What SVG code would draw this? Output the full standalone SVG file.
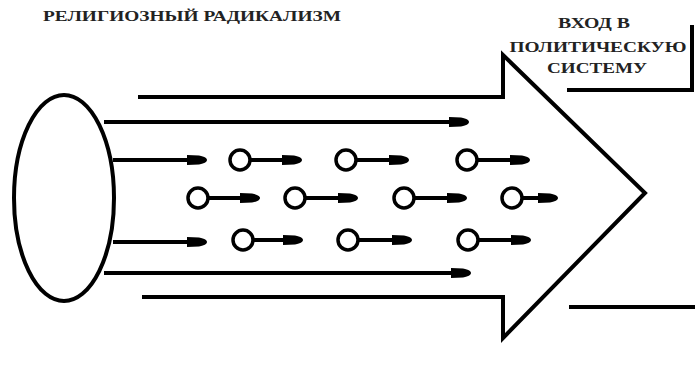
<svg xmlns="http://www.w3.org/2000/svg" width="695" height="371" viewBox="0 0 695 371">
<style>
.t{font-family:"Liberation Serif","DejaVu Serif",serif;font-weight:bold;fill:#222;}
.ln{stroke:#000;stroke-width:4;fill:none;}
.ar{stroke:#000;stroke-width:4;fill:none;marker-end:url(#h);}
.c{stroke:#000;stroke-width:3.5;fill:#fff;}
</style>
<defs>
<marker id="h" markerUnits="userSpaceOnUse" viewBox="0 0 20 11" refX="19" refY="5.5" markerWidth="20" markerHeight="11" orient="auto">
<path d="M0,0.5 L12,1 C18,2 20,4 20,5.5 C20,7 18,9 12,10 L0,10.5 Z" fill="#000"/>
</marker>
</defs>
<rect width="695" height="371" fill="#fff"/>
<text class="t" x="43" y="21" font-size="15" textLength="298" lengthAdjust="spacingAndGlyphs">РЕЛИГИОЗНЫЙ РАДИКАЛИЗМ</text>
<g id="entry-label">
<text class="t" x="594" y="28" font-size="15" text-anchor="middle" textLength="72" lengthAdjust="spacingAndGlyphs">ВХОД В</text>
<text class="t" x="598" y="52" font-size="15" text-anchor="middle" textLength="177" lengthAdjust="spacingAndGlyphs">ПОЛИТИЧЕСКУЮ</text>
<text class="t" x="597" y="73" font-size="15" text-anchor="middle" textLength="100" lengthAdjust="spacingAndGlyphs">СИСТЕМУ</text>
</g>
<g id="political-system">
<path class="ln" d="M567,90 H692 V25"/>
<path class="ln" d="M569,307 H695"/>
</g>
<g id="big-arrow">
<path class="ln" d="M138,97 H503 V55 L645,193 L503,338 V297 H142" stroke-linejoin="miter"/>
</g>
<g id="source">
<ellipse cx="64" cy="198" rx="50" ry="103" fill="#fff" stroke="#000" stroke-width="4"/>
</g>
<g id="connectors">
<line class="ar" x1="104" y1="122" x2="468" y2="122"/>
<line class="ar" x1="104" y1="273" x2="470" y2="273"/>
<line class="ar" x1="113" y1="160" x2="206" y2="160"/>
<line class="ar" x1="113" y1="242" x2="206" y2="242"/>
<line class="ar" x1="251" y1="160" x2="301" y2="160"/>
<line class="ar" x1="357" y1="160" x2="408" y2="160"/>
<line class="ar" x1="478" y1="160" x2="529" y2="160"/>
<line class="ar" x1="209" y1="198" x2="259" y2="198"/>
<line class="ar" x1="306" y1="198" x2="357" y2="198"/>
<line class="ar" x1="415" y1="198" x2="466" y2="198"/>
<line class="ar" x1="523" y1="198" x2="557" y2="198"/>
<line class="ar" x1="254" y1="240" x2="302" y2="240"/>
<line class="ar" x1="359" y1="240" x2="411" y2="240"/>
<line class="ar" x1="479" y1="240" x2="530" y2="240"/>
</g>
<g id="particles">
<circle class="c" cx="240" cy="160" r="10"/>
<circle class="c" cx="346" cy="160" r="10"/>
<circle class="c" cx="467" cy="160" r="10"/>
<circle class="c" cx="198" cy="198" r="10"/>
<circle class="c" cx="295" cy="198" r="10"/>
<circle class="c" cx="404" cy="198" r="10"/>
<circle class="c" cx="512" cy="198" r="10"/>
<circle class="c" cx="243" cy="240" r="10"/>
<circle class="c" cx="348" cy="240" r="10"/>
<circle class="c" cx="468" cy="240" r="10"/>
</g>
</svg>
